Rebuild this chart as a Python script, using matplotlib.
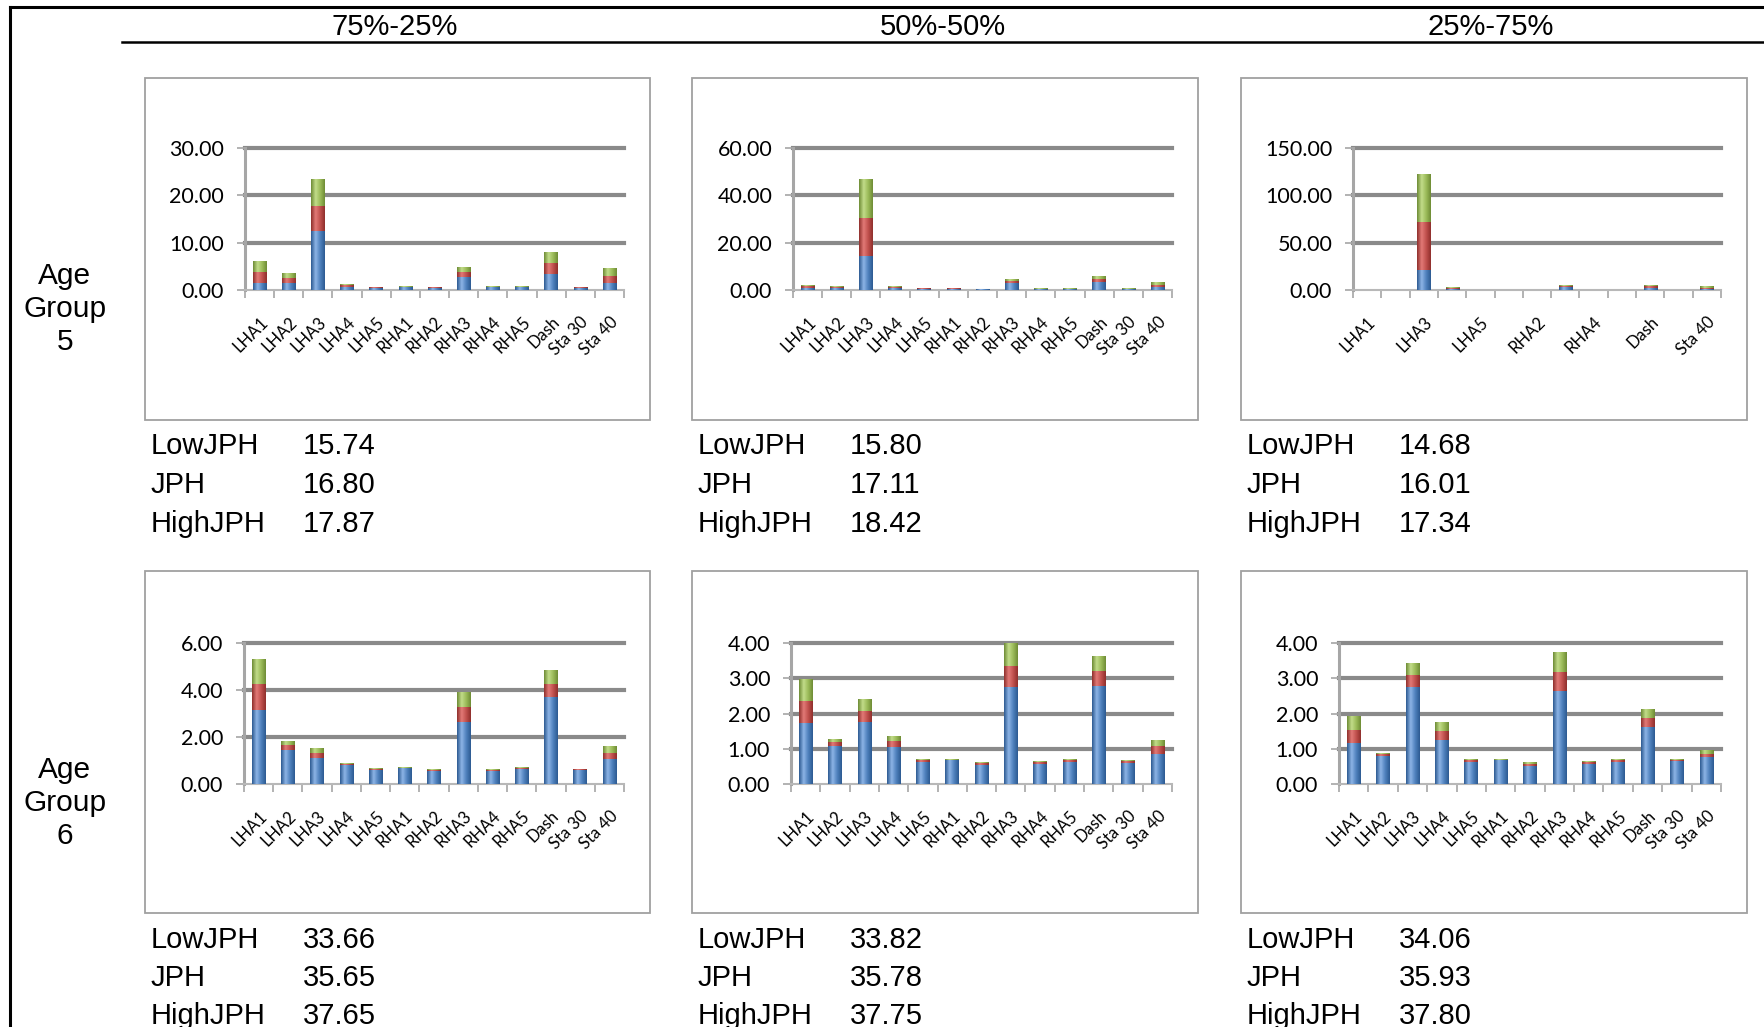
import matplotlib.pyplot as plt
import numpy as np
from matplotlib.colors import LinearSegmentedColormap
from matplotlib.lines import Line2D
from matplotlib.patches import Rectangle

W, H = 1764, 1027

categories = ["LHA1", "LHA2", "LHA3", "LHA4", "LHA5", "RHA1", "RHA2",
              "RHA3", "RHA4", "RHA5", "Dash", "Sta 30", "Sta 40"]
col_titles = ["75%-25%", "50%-50%", "25%-75%"]
row_labels = ["Age\nGroup\n5", "Age\nGroup\n6"]
jph_labels = ["LowJPH", "JPH", "HighJPH"]

# Age group 5
g5_7525_blue  = [1.5, 1.4, 12.4, 0.7, 0.5, 0.6, 0.5, 2.7, 0.6, 0.6, 3.4, 0.5, 1.4]
g5_7525_red   = [2.4, 1.1, 5.3, 0.3, 0.1, 0.1, 0.1, 1.0, 0.1, 0.1, 2.3, 0.1, 1.6]
g5_7525_green = [2.2, 1.0, 5.7, 0.2, 0.1, 0.1, 0.1, 1.2, 0.1, 0.1, 2.3, 0.1, 1.6]

g5_5050_blue  = [1.0, 0.9, 14.2, 0.9, 0.5, 0.6, 0.4, 2.8, 0.5, 0.5, 3.2, 0.5, 1.2]
g5_5050_red   = [0.6, 0.5, 16.4, 0.3, 0.15, 0.1, 0.1, 0.9, 0.1, 0.1, 1.3, 0.1, 1.0]
g5_5050_green = [0.5, 0.4, 16.4, 0.3, 0.15, 0.1, 0.1, 1.1, 0.1, 0.1, 1.5, 0.1, 1.2]

g5_2575_blue  = [0, 0, 21.0, 0.8, 0, 0, 0, 3.5, 0, 0, 2.0, 0, 1.0]
g5_2575_red   = [0, 0, 51.0, 1.2, 0, 0, 0, 0.8, 0, 0, 2.0, 0, 1.5]
g5_2575_green = [0, 0, 51.0, 1.0, 0, 0, 0, 0.8, 0, 0, 1.5, 0, 1.5]

# Age group 6
g6_7525_blue  = [3.13, 1.45, 1.10, 0.80, 0.60, 0.67, 0.56, 2.63, 0.57, 0.63, 3.69, 0.60, 1.07]
g6_7525_red   = [1.13, 0.20, 0.20, 0.05, 0.05, 0.03, 0.05, 0.64, 0.04, 0.05, 0.57, 0.03, 0.25]
g6_7525_green = [1.06, 0.18, 0.25, 0.05, 0.05, 0.02, 0.03, 0.66, 0.03, 0.04, 0.59, 0.02, 0.28]

g6_5050_blue  = [1.73, 1.08, 1.75, 1.05, 0.62, 0.67, 0.55, 2.75, 0.57, 0.62, 2.77, 0.60, 0.86]
g6_5050_red   = [0.62, 0.11, 0.32, 0.16, 0.05, 0.02, 0.04, 0.61, 0.05, 0.05, 0.43, 0.04, 0.22]
g6_5050_green = [0.63, 0.09, 0.35, 0.15, 0.05, 0.02, 0.03, 0.64, 0.04, 0.04, 0.42, 0.03, 0.16]

g6_2575_blue  = [1.17, 0.80, 2.75, 1.24, 0.63, 0.67, 0.52, 2.65, 0.57, 0.63, 1.61, 0.64, 0.76]
g6_2575_red   = [0.37, 0.04, 0.35, 0.26, 0.04, 0.02, 0.06, 0.54, 0.05, 0.04, 0.26, 0.05, 0.10]
g6_2575_green = [0.38, 0.03, 0.33, 0.25, 0.04, 0.02, 0.04, 0.55, 0.03, 0.03, 0.25, 0.03, 0.11]

g5_jph = [[15.74, 16.80, 17.87], [15.80, 17.11, 18.42], [14.68, 16.01, 17.34]]
g6_jph = [[33.66, 35.65, 37.65], [33.82, 35.78, 37.75], [34.06, 35.93, 37.80]]

panels = [
    [(g5_7525_blue, g5_7525_red, g5_7525_green),
     (g5_5050_blue, g5_5050_red, g5_5050_green),
     (g5_2575_blue, g5_2575_red, g5_2575_green)],
    [(g6_7525_blue, g6_7525_red, g6_7525_green),
     (g6_5050_blue, g6_5050_red, g6_5050_green),
     (g6_2575_blue, g6_2575_red, g6_2575_green)],
]
y_scales = [[(30, 10), (60, 20), (150, 50)], [(6, 2), (4, 1), (4, 1)]]
label_step = [[1, 1, 2], [1, 1, 1]]

# pixel layout (left axis x, right x) per column, (top y, zero y) per row
axes_x = [[(245, 624), (793, 1172), (1353, 1721)],
          [(244, 624), (791, 1172), (1339, 1721)]]
axes_y = [(148, 290), (643, 784)]
box_x = [(145, 650), (692, 1198), (1241, 1747)]
box_y = [(78, 420), (571, 913)]

SERIES = [("#4F81BD", "#2c5a91", "#8db4e6"),
          ("#C0504D", "#8f2f2c", "#e27a77"),
          ("#9BBB59", "#6e8c35", "#c2dc8a")]
cmaps = [LinearSegmentedColormap.from_list("c%d" % i, [d, l, b, d])
         for i, (b, d, l) in enumerate(SERIES)]
grad = np.linspace(0, 1, 64).reshape(1, -1)

FONT = "Liberation Sans"
CHART_FONT = "Lato"

fig = plt.figure(figsize=(W / 100, H / 100), dpi=100)
fig.patch.set_facecolor("white")


def fx(px):
    return px / W


def fy(py):
    return 1 - py / H


def draw_panel(ax, series, ymax, step, every):
    x = np.arange(len(categories))
    bottom = np.zeros(len(x))
    for vals, (base, dark, light), cm in zip(series, SERIES, cmaps):
        vals = np.asarray(vals, dtype=float)
        bars = ax.bar(x, vals, width=0.46, bottom=bottom, color=base,
                      linewidth=0, zorder=3)
        for b in bars:
            if b.get_height() <= 0:
                continue
            im = ax.imshow(grad, extent=(b.get_x(), b.get_x() + b.get_width(),
                                         b.get_y(), b.get_y() + b.get_height()),
                           aspect="auto", cmap=cm, zorder=3.5,
                           interpolation="bilinear")
            im.set_clip_path(b)
        bottom += vals

    ticks = np.arange(0, ymax + step / 2, step)
    for v in ticks[1:]:
        ax.axhline(v, color="#8a8a8a", lw=3.0, zorder=1, clip_on=False)
    ax.set_xlim(-0.5, len(categories) - 0.5)
    ax.set_ylim(0, ymax)
    ax.set_yticks(ticks)
    ax.set_yticklabels([f"{v:.2f}" for v in ticks], fontsize=15.5,
                       family=CHART_FONT)
    ax.set_xticks(x[::every])
    ax.set_xticklabels(categories[::every], rotation=45, ha="right",
                       rotation_mode="anchor", fontsize=12, family=CHART_FONT)
    ax.set_xticks(np.arange(-0.5, len(categories)), minor=True)
    ax.tick_params(axis="x", which="major", length=0, pad=17)
    ax.tick_params(axis="x", which="minor", length=6, width=1.2,
                   color="#a6a6a6")
    ax.tick_params(axis="y", length=6, width=1.2, color="#a6a6a6", pad=9)
    for s in ("top", "right"):
        ax.spines[s].set_visible(False)
    ax.spines["left"].set_color("#a6a6a6")
    ax.spines["left"].set_linewidth(2.2)
    ax.spines["bottom"].set_color("#b8b8b8")
    ax.spines["bottom"].set_linewidth(1.5)
    ax.set_facecolor("none")


for r in range(2):
    for c in range(3):
        bx0, bx1 = box_x[c]
        by0, by1 = box_y[r]
        fig.add_artist(Rectangle((fx(bx0), fy(by1)), fx(bx1 - bx0),
                                 (by1 - by0) / H, fill=False,
                                 edgecolor="#a0a0a0", lw=1.3))
        ax0, ax1 = axes_x[r][c]
        ty, zy = axes_y[r]
        ax = fig.add_axes([fx(ax0), fy(zy), fx(ax1 - ax0), (zy - ty) / H])
        ymax, step = y_scales[r][c]
        draw_panel(ax, panels[r][c], ymax, step, label_step[r][c])

        stats = (g5_jph, g6_jph)[r][c]
        base_y = by1 + 26.5
        for i, (lab, val) in enumerate(zip(jph_labels, stats)):
            yy = base_y + i * 38.5
            fig.text(fx(bx0 + 6), fy(yy), lab, fontsize=21, family=FONT,
                     va="center", ha="left")
            fig.text(fx(bx0 + 158), fy(yy), f"{val:.2f}", fontsize=21,
                     family=FONT, va="center", ha="left")

for c, title in enumerate(col_titles):
    fig.text(fx([395, 943, 1491][c]), fy(27), title, fontsize=21,
             family=FONT, ha="center", va="center")

for r, lab in enumerate(row_labels):
    fig.text(fx(65), fy([309, 803][r]), lab, fontsize=21.5, family=FONT,
             ha="center", va="center", linespacing=1.24)

# outer frame and header rule
fig.add_artist(Line2D([fx(10), fx(10)], [0, fy(7)], color="black", lw=2.2))
fig.add_artist(Line2D([fx(10), 1], [fy(7), fy(7)], color="black", lw=2.2))
fig.add_artist(Line2D([fx(122), 1], [fy(42), fy(42)], color="black", lw=1.8))

fig.savefig("out.png", dpi=100, facecolor="white")
